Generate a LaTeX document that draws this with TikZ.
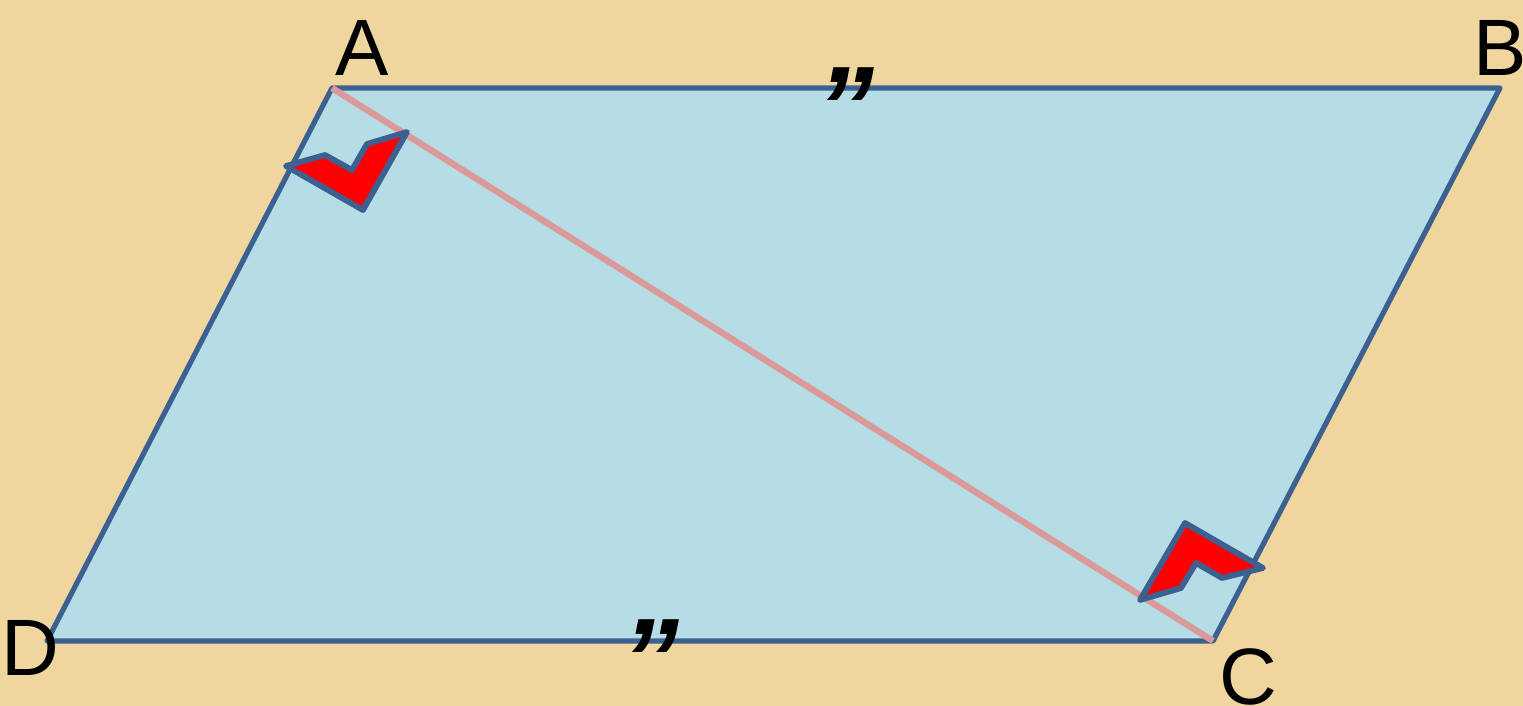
\documentclass[tikz,border=0pt]{standalone}
\usepackage{fontspec}
\setmainfont{Liberation Sans}
\begin{document}
\begin{tikzpicture}[x=0.5pt,y=-0.5pt,
  edge/.style={draw=outl,line width=2.6pt,line join=round},
  diag/.style={draw=diagc,line width=3.2pt},
  marker/.style={fill=red,draw=outl,line width=2.9pt,line join=round},
  lbl/.style={font=\fontsize{40pt}{40pt}\selectfont,inner sep=0pt},
  ditto/.style={font=\fontsize{58pt}{58pt}\selectfont\bfseries\itshape,inner sep=0pt}]
\definecolor{bg}{HTML}{EED69E}
\definecolor{outl}{HTML}{3C6191}
\definecolor{fillc}{HTML}{B6DCE6}
\definecolor{diagc}{HTML}{DA9A9A}
\fill[bg] (0,0) rectangle (1523,706);
\useasboundingbox (0,0) rectangle (1523,706);
\coordinate (A) at (332,88);
\coordinate (B) at (1500,88);
\coordinate (C) at (1213,641);
\coordinate (D) at (47,641);
\fill[fillc] (A) -- (B) -- (C) -- (D) -- cycle;
\draw[edge] (A) -- (B) -- (C) -- (D) -- cycle;
\draw[diag] (A) -- (C);
\draw[marker] (286,166) -- (325,155) -- (352,170) -- (367,144) -- (407,132) -- (363,210) -- cycle;
\draw[marker] (1140,600) -- (1185,523) -- (1263,568) -- (1222,578) -- (1196,563) -- (1181,588) -- cycle;
\node[lbl] (la) at (362,48) {A};
\node[lbl] (lb) at (1500,48) {B};
\node[lbl] (lc) at (1248,677) {C};
\node[lbl] (ld) at (30,648) {D};
\node[ditto] (t1) at (845,108) {”};
\node[ditto] (t2) at (650,660) {”};
\end{tikzpicture}
\end{document}
